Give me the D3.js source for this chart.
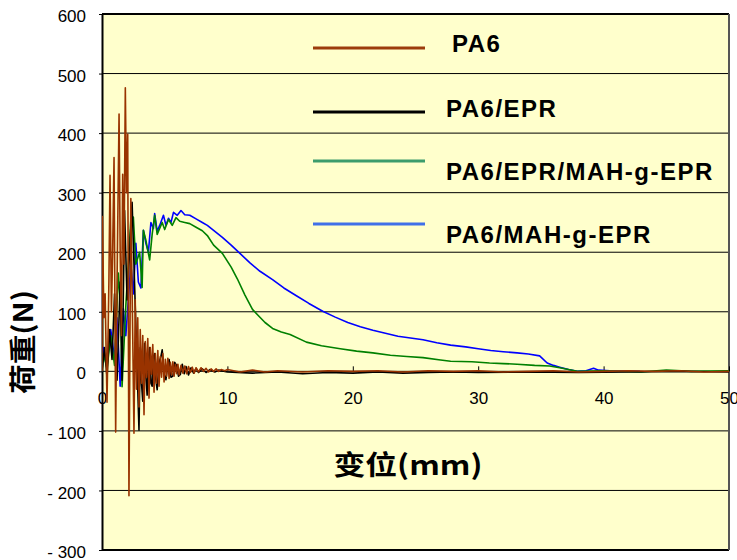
<!DOCTYPE html>
<html lang="zh">
<head>
<meta charset="UTF-8">
<title>荷重-变位</title>
<script src="https://d3js.org/d3.v7.min.js"></script>
<style>
    body { margin: 0; background: #fff; }
    svg { display: block; font-family: "Liberation Sans", Arial, sans-serif; }
</style>
</head>
<body>
<svg id="chart" width="737" height="560"></svg>
<script>
// displacement (mm) / load (N)
const pa6Disp = [0,0.03,0.15,0.25,0.4,0.55,0.64,0.75,0.85,0.96,1.09,1.2,1.36,1.45,1.55,1.65,1.75,1.86,1.95,2.05,2.15,2.3,2.45,2.55,
    2.65,2.75,2.85,2.95,3.05,3.15,3.25,3.35,3.45,3.55,3.65,3.75,3.85,3.95,4.05,4.15,4.25,4.35,4.45,4.55,4.65,4.75,4.85,4.95,
    5.05,5.15,5.25,5.35,5.45,5.55,5.65,5.75,5.85,5.95,6.05,6.15,6.3,6.45,6.6,6.75,6.9,7.05,7.2,7.35,7.5,7.7,7.9,8.1,8.3,8.5,
    8.7,8.9,9.1,9.3,9.5,9.8,10,11,12,13,14,16,18,20,22,24,26,28,30,32,34,36,38,40,42,44,46,48,50];
const pa6Load = [0,260,90,130,-52,150,329,100,200,359,-102,150,432,200,60,331,180,476,300,398,-209,290,60,-104,
    120,-30,90,-60,70,-20,60,-73,50,-10,55,-45,40,-5,45,-35,30,-20,35,-25,25,-10,30,-18,
    20,-8,22,-12,15,-6,16,-8,12,-4,12,-6,10,-3,9,-4,8,-2,7,-3,6,-1,6,0,5,-1,
    4,0,4,0,3,1,3,-1,2,-1,1,-1,1,0,1,-1,1,0,1,-1,0,1,-1,0,1,0,1,-1,0];

const eprDisp = [0,0.2,0.4,0.6,0.8,1.0,1.2,1.45,1.6,1.8,2.0,2.2,2.4,2.95,3.05,3.15,3.25,3.4,3.5,3.6,3.7,3.8,3.9,4.0,4.1,4.2,
    4.3,4.4,4.55,4.7,4.8,4.95,5.1,5.2,5.35,5.5,5.65,5.8,5.95,6.1,6.25,6.4,6.55,6.7,6.9,7.1,7.3,7.5,7.7,8.0,8.3,8.6,9.0,9.3,
    10,12,14,16,18,20,22,24,26,28,30,34,38,42,46,50];
const eprLoad = [0,40,-10,70,20,130,-15,150,-15,270,120,200,284,-99,40,-20,-50,47,-10,-40,20,40,-20,-25,25,30,
    -15,-31,15,25,36,-5,-14,5,20,-10,-8,15,10,-8,-5,12,-4,8,-6,6,-3,5,-2,4,-2,3,-1,2,
    -1,-3,-1,-4,-2,-3,-1,-3,-2,-1,-2,-1,-2,-1,0,-1];

const blendDisp = [0,0.1,0.4,0.7,1.0,1.3,1.5,1.6,1.9,2.3,2.5,2.7,3.0,3.2,3.3,3.5,3.8,4.0,4.2,4.4,4.6,4.8,5.0,5.3,5.6,5.9,6.2,6.6,7.0,7.5,8.0,8.4,8.9,9.6,10.3,10.8,11.4,12.0,12.4,13.0,13.6,14.3,15.0,16.3,17.5,19,20.3,21.6,23,24.3,25.6,27,27.8,29.5,30.9,32,33.1,34.5,35.7,36.5,37.2,37.9,40,43,45,47,50];
const blendLoad = [0,30,5,60,10,165,103,-26,110,254,259,180,200,141,237,220,187,230,262,230,240,250,238,255,245,258,252,250,248,242,236,228,212,198,175,155,128,104,95,82,72,66,62,49,43,38,34,31,27,25,23,19,17,16,14,13,12,10,9,6,3,0,1,-1,2,0,1];

const mahDisp = [0,0.1,0.4,0.7,1.0,1.2,1.45,1.7,1.9,2.3,2.5,2.7,2.9,3.1,3.3,3.5,3.7,3.9,4.1,4.2,4.4,4.6,4.9,5.1,5.3,5.5,5.7,6.0,6.3,6.6,7.0,7.5,8.0,8.4,9.0,9.6,10.3,11.0,11.8,12.6,13.6,14.5,15.5,16.5,17.6,18.6,19.6,20.6,21.6,22.6,23.6,24.6,25.6,26.7,27.8,29,30,31,32,33.1,34,34.9,35.5,36.0,36.5,37.2,37.9,38.6,39.2,39.6,40.5,42.9];
const mahLoad = [0,40,10,70,20,90,-25,105,60,180,130,215,150,140,237,215,200,250,240,265,235,245,262,245,257,250,267,262,270,263,262,256,250,245,235,225,212,198,182,168,154,140,127,114,101,91,82,75,69,64,59,56,53,48,44,41,38,35,33,31,29,26,14,10,7,3,0,1,5,2,1,0];

const seriesNames = ["PA6", "PA6/EPR", "PA6/EPR/MAH-g-EPR", "PA6/MAH-g-EPR"];
const yTicks = [-300,-200,-100,0,100,200,300,400,500,600];
const xTicks = [0,10,20,30,40,50];

const lineColors = ["#993300", "#000000", "#008000", "#0000ff"];
const legendColors = ["#9c3c0c", "#000000", "#3c9c6c", "#4070e8"];

const svg = d3.select("#chart");
const plotLeft = 102, plotRight = 729, plotTop = 14, plotBottom = 550;

const x = d3.scaleLinear().domain([0, 50]).range([plotLeft, plotRight]);
const y = d3.scaleLinear().domain([-300, 600]).range([plotBottom, plotTop]);

svg.append("rect")
    .attr("x", plotLeft).attr("y", plotTop)
    .attr("width", plotRight - plotLeft).attr("height", plotBottom - plotTop)
    .attr("fill", "#ffffcc");

svg.append("defs").append("clipPath").attr("id", "plot")
    .append("rect")
    .attr("x", plotLeft).attr("y", plotTop)
    .attr("width", plotRight - plotLeft).attr("height", plotBottom - plotTop);

// horizontal grid
svg.append("g")
    .selectAll("line")
    .data(yTicks)
    .join("line")
    .attr("x1", plotLeft).attr("x2", plotRight)
    .attr("y1", d => y(d)).attr("y2", d => y(d))
    .attr("stroke", "#000")
    .attr("stroke-width", d => (d === 600 || d === -300) ? 2 : 1);

// y axis
const yAxis = svg.append("g")
    .attr("transform", `translate(${plotLeft},0)`)
    .call(d3.axisLeft(y).tickValues(yTicks).tickSize(3).tickSizeOuter(0).tickPadding(13)
        .tickFormat(d => d < 0 ? "- " + Math.abs(d) : d));
yAxis.select(".domain").attr("stroke", "#000").attr("stroke-width", 2);
yAxis.selectAll("text")
    .attr("font-family", "'Liberation Sans', Arial, sans-serif")
    .attr("font-size", 17).attr("fill", "#000").attr("dy", "0.45em");

// right border
svg.append("line")
    .attr("x1", plotRight).attr("x2", plotRight).attr("y1", plotTop).attr("y2", plotBottom)
    .attr("stroke", "#555").attr("stroke-width", 2);

// x axis on the zero line, ticks pointing up
const xAxis = svg.append("g")
    .attr("transform", `translate(0,${y(0)})`)
    .call(d3.axisBottom(x).tickValues(xTicks).tickSize(-5).tickSizeOuter(0).tickPadding(21));
xAxis.select(".domain").remove();
xAxis.selectAll("line").attr("stroke", "#000");
xAxis.selectAll("text")
    .attr("font-family", "'Liberation Sans', Arial, sans-serif")
    .attr("font-size", 17).attr("fill", "#000");

// curves
const line = d3.line().x(d => x(d[0])).y(d => y(d[1]));
const curves = [
    [mahDisp, mahLoad, 3],
    [blendDisp, blendLoad, 2],
    [eprDisp, eprLoad, 1],
    [pa6Disp, pa6Load, 0]
];
const plot = svg.append("g").attr("clip-path", "url(#plot)");
curves.forEach(([dx, dy, i]) => {
    plot.append("path")
        .datum(d3.zip(dx, dy))
        .attr("d", line)
        .attr("fill", "none")
        .attr("stroke", lineColors[i])
        .attr("stroke-width", 1.6)
        .attr("stroke-linejoin", "round");
});

// legend
const legendLineY = [48, 112, 161, 224];
const legendTextY = [52, 117, 180, 243];
const legendTextX = [452, 446, 446, 446];
const legend = svg.append("g");
seriesNames.forEach((name, i) => {
    legend.append("line")
        .attr("x1", 313).attr("x2", 425)
        .attr("y1", legendLineY[i]).attr("y2", legendLineY[i])
        .attr("stroke", legendColors[i]).attr("stroke-width", 3);
    legend.append("text")
        .attr("x", legendTextX[i]).attr("y", legendTextY[i])
        .attr("font-size", 24).attr("font-weight", "bold")
        .attr("letter-spacing", 1.5)
        .attr("fill", "#000")
        .text(name);
});

// axis titles
svg.append("text")
    .attr("x", 408).attr("y", 475)
    .attr("text-anchor", "middle")
    .attr("font-family", "'Noto Sans CJK SC', sans-serif")
    .attr("font-weight", "bold").attr("font-size", 27)
    .attr("textLength", 149).attr("lengthAdjust", "spacingAndGlyphs")
    .text("变位(mm)");

svg.append("text")
    .attr("transform", "translate(33,342) rotate(-90)")
    .attr("text-anchor", "middle")
    .attr("font-family", "'Noto Sans CJK SC', sans-serif")
    .attr("font-weight", "bold").attr("font-size", 27)
    .attr("textLength", 104).attr("lengthAdjust", "spacingAndGlyphs")
    .text("荷重(N)");
</script>
</body>
</html>
